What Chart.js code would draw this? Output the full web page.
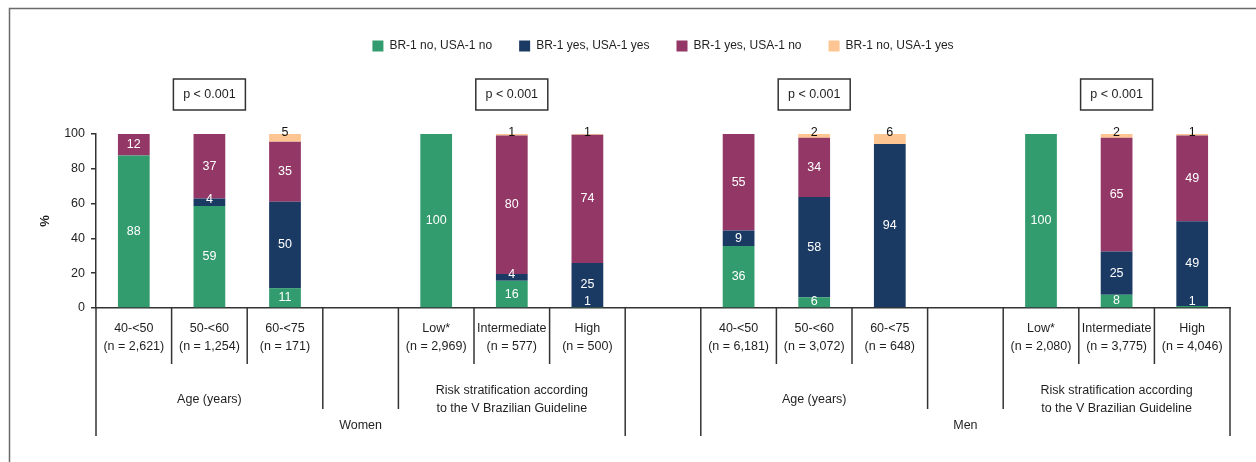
<!DOCTYPE html>
<html><head><meta charset="utf-8">
<script src="https://cdn.jsdelivr.net/npm/chart.js@4/dist/chart.umd.min.js"></script>
<style>html,body{margin:0;padding:0;background:#fff}#wrap{width:1256px;height:462px;position:relative}</style>
</head><body><div id="wrap"><canvas id="c" width="1256" height="462"></canvas></div>
<script>
// ---- data ----
const categories = [
  ['40-<50','(n = 2,621)'], ['50-<60','(n = 1,254)'], ['60-<75','(n = 171)'], '',
  ['Low*','(n = 2,969)'], ['Intermediate','(n = 577)'], ['High','(n = 500)'], '',
  ['40-<50','(n = 6,181)'], ['50-<60','(n = 3,072)'], ['60-<75','(n = 648)'], '',
  ['Low*','(n = 2,080)'], ['Intermediate','(n = 3,775)'], ['High','(n = 4,046)']
];
const seriesNames = ['BR-1 no, USA-1 no', 'BR-1 yes, USA-1 yes', 'BR-1 yes, USA-1 no', 'BR-1 no, USA-1 yes'];
const brNoUsaNo   = [87.6, 58.6, 11.4, null, 100, 15.6, 0.6, null, 35.6, 6.2, 0, null, 100, 7.6, 1.1];
const brYesUsaYes = [0, 4.4, 49.6, null, 0, 3.9, 25.3, null, 9.0, 57.6, 94.2, null, 0, 24.8, 48.8];
const brYesUsaNo  = [12.4, 37, 34.6, null, 0, 79.6, 73.6, null, 55.4, 34, 0, null, 0, 65.4, 49.2];
const brNoUsaYes  = [0, 0, 4.6, null, 0, 0.9, 0.6, null, 0, 2.2, 5.8, null, 0, 2.2, 0.9];
const yTicks = [0, 20, 40, 60, 80, 100];
const groupTitles = [['Age (years)'], ['Risk stratification according', 'to the V Brazilian Guideline'],
                     ['Age (years)'], ['Risk stratification according', 'to the V Brazilian Guideline']];
const sexLabels = ['Women', 'Men'];
const pValues = ['p < 0.001', 'p < 0.001', 'p < 0.001', 'p < 0.001'];

// ---- style ----
const FONT = "'Liberation Sans', Arial, sans-serif";
const FS = 12.5;
const colors = ['#339C6E', '#1A3A64', '#923766', '#FCC592'];
const labelColors = ['#ffffff', '#ffffff', '#ffffff', '#111111'];
const INK = '#1f1f1f';
const LINE = '#333333';
Chart.defaults.font.family = FONT;
Chart.defaults.color = INK;

const seriesValues = [brNoUsaNo, brYesUsaYes, brYesUsaNo, brNoUsaYes];

const tablePlugin = {
  id: 'table',
  afterInit(chart) {
    const lg = chart.legend;
    if (lg) {
      const f = lg.fit;
      lg.fit = function () { f.call(this); this.height = 121; };
    }
  },
  afterDatasetsDraw(chart) {
    const ctx = chart.ctx;
    ctx.save();
    ctx.font = FS + 'px ' + FONT;
    ctx.textAlign = 'center';
    ctx.textBaseline = 'middle';
    chart.data.datasets.forEach((ds, i) => {
      const meta = chart.getDatasetMeta(i);
      meta.data.forEach((el, j) => {
        const v = ds.data[j];
        if (v == null || v <= 0) return;
        let y;
        if (i === 3) {
          y = el.y - 1;
        } else {
          y = Math.min((el.y + el.base) / 2, el.base - 6);
        }
        ctx.fillStyle = labelColors[i];
        ctx.fillText(String(Math.round(v)), el.x, y);
      });
    });
    ctx.restore();
  },
  afterDraw(chart) {
    const {ctx, chartArea, scales: {x}} = chart;
    const w = x.getPixelForValue(1) - x.getPixelForValue(0);
    const edge = k => x.getPixelForValue(k) - w / 2;
    const base = chartArea.bottom;
    ctx.save();
    // frame
    ctx.strokeStyle = '#6a6a6a';
    ctx.lineWidth = 1.5;
    ctx.strokeRect(9.5, 8.5, 1300, 500);

    ctx.strokeStyle = LINE;
    ctx.lineWidth = 1.5;
    const vline = (xx, y2) => { ctx.beginPath(); ctx.moveTo(xx, base); ctx.lineTo(xx, y2); ctx.stroke(); };
    ctx.fillStyle = INK;
    ctx.font = FS + 'px ' + FONT;
    ctx.textAlign = 'center';
    ctx.textBaseline = 'middle';
    for (let g = 0; g < 4; g++) {
      const s0 = g * 4;
      vline(edge(s0 + 1), base + 56);
      vline(edge(s0 + 2), base + 56);
      if (g % 2 === 0) { vline(edge(s0), base + 128); vline(edge(s0 + 3), base + 101); }
      else { vline(edge(s0), base + 101); vline(edge(s0 + 3), base + 128); }
      const cx = x.getPixelForValue(s0 + 1);
      const lines = groupTitles[g];
      const lh = 18;
      lines.forEach((t, k) => ctx.fillText(t, cx, base + 92 + (k - (lines.length - 1) / 2) * lh));
      ctx.lineWidth = 1.5;
      ctx.strokeRect(cx - 36, 79, 72, 31);
      ctx.fillText(pValues[g], cx, 95);
    }
    sexLabels.forEach((t, s) => {
      const cx = (edge(s * 8) + edge(s * 8 + 7)) / 2;
      ctx.fillText(t, cx, base + 118);
    });
    ctx.restore();
  }
};

new Chart(document.getElementById('c'), {
  type: 'bar',
  data: {
    labels: categories,
    datasets: seriesValues.map((vals, i) => ({
      label: seriesNames[i],
      data: vals,
      backgroundColor: colors[i],
      borderWidth: 0,
      barPercentage: 0.42,
      categoryPercentage: 1.0
    }))
  },
  options: {
    responsive: false,
    animation: false,
    devicePixelRatio: 1,
    layout: { padding: { top: 13, right: 26, bottom: 0, left: 0 } },
    plugins: {
      legend: {
        position: 'top',
        fullSize: false,
        labels: { boxWidth: 11, boxHeight: 11, padding: 27, color: INK, font: { size: 12, family: FONT } }
      },
      tooltip: { enabled: false }
    },
    scales: {
      x: {
        stacked: true,
        grid: { display: false, drawTicks: false },
        border: { display: true, color: LINE, width: 1.5 },
        ticks: { autoSkip: false, maxRotation: 0, minRotation: 0, padding: 11, color: INK,
                 font: { size: FS, family: FONT, lineHeight: 1.45 } },
        afterFit(scale) { scale.height = 154; }
      },
      y: {
        stacked: true,
        min: 0, max: 100,
        afterBuildTicks(scale) { scale.ticks = yTicks.map(v => ({ value: v })); },
        grid: { drawOnChartArea: false, drawTicks: true, tickLength: 5, color: LINE, lineWidth: 1.5 },
        border: { display: true, color: LINE, width: 1.5 },
        ticks: { padding: 6, color: INK, font: { size: 12.5, family: FONT } },
        title: { display: true, text: '%', color: INK, font: { size: 13, weight: 'bold', family: FONT }, padding: { top: 38 } },
        afterFit(scale) { scale.width = 96; }
      }
    }
  },
  plugins: [tablePlugin]
});
</script>
</body></html>
